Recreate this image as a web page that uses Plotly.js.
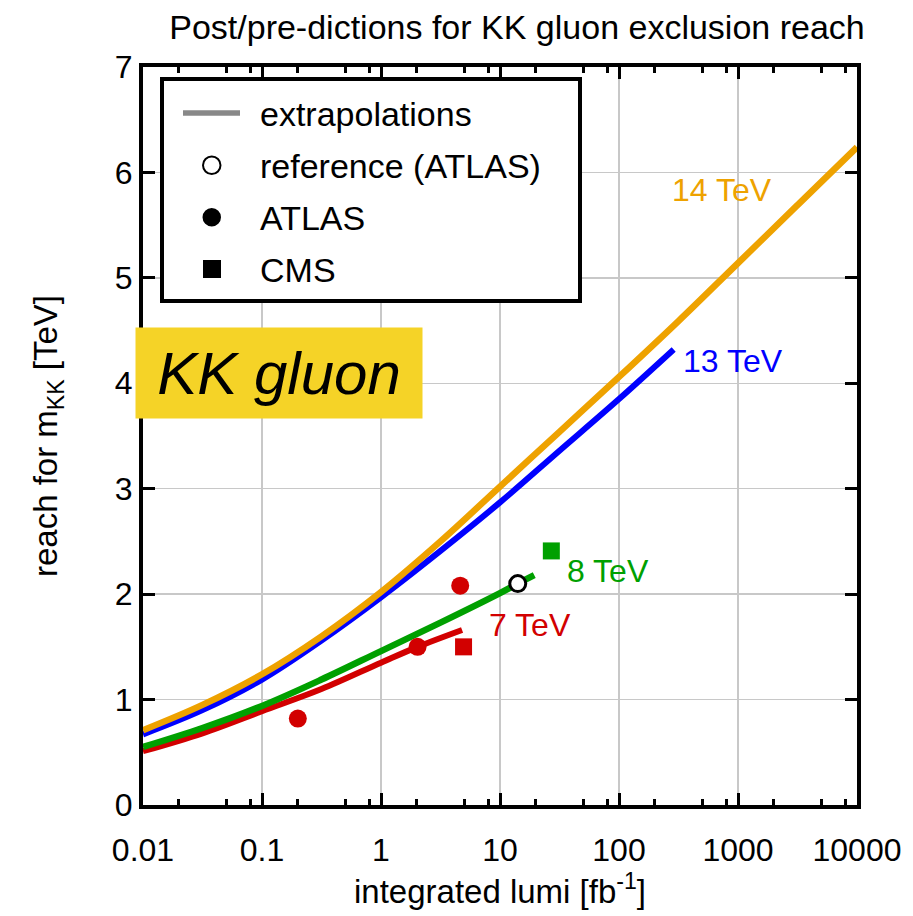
<!DOCTYPE html>
<html>
<head>
<meta charset="utf-8">
<script src="https://cdn.plot.ly/plotly-3.0.1.min.js"></script>
<style>
  html, body { margin: 0; padding: 0; background: #fff; }
  #chart { width: 913px; height: 916px; }
</style>
</head>
<body>
<div id="chart"></div>
<script>
// Extrapolated exclusion reach for the KK gluon mass vs. integrated luminosity [fb^-1]
const lumi7   = [0.01, 0.0316, 0.1, 0.316, 1, 2.03, 4.8];
const reach7  = [0.51, 0.68, 0.89, 1.10, 1.35, 1.50, 1.66];
const lumi8   = [0.01, 0.0316, 0.1, 0.316, 1, 3.16, 10, 14.1, 19.4];
const reach8  = [0.55, 0.73, 0.94, 1.19, 1.46, 1.73, 2.01, 2.10, 2.18];
const lumi13  = [0.01, 0.0316, 0.1, 0.316, 1, 3.16, 10, 31.6, 100, 288];
const reach13 = [0.67, 0.90, 1.19, 1.56, 1.97, 2.41, 2.87, 3.36, 3.85, 4.32];
const lumi14  = [0.01, 0.0316, 0.1, 0.316, 1, 3.16, 10, 31.6, 100, 316, 1000, 3162, 10000];
const reach14 = [0.71, 0.95, 1.24, 1.60, 2.02, 2.50, 3.02, 3.54, 4.06, 4.59, 5.14, 5.69, 6.24];

// Published limits
const atlasLumi  = [0.2, 2.03, 4.63];
const atlasReach = [0.82, 1.50, 2.08];
const cms7Lumi   = [4.94];
const cms7Reach  = [1.50];
const cms8Lumi   = [27.0];
const cms8Reach  = [2.41];
const refLumi    = [14.1];
const refReach   = [2.10];

// Series labels
const seriesNames = ['7 TeV', '8 TeV', '13 TeV', '14 TeV'];
const labelLumi   = [18, 81, 915, 738];
const labelReach  = [1.71, 2.22, 4.21, 5.83];

// Axis ticks
const xTickVals = [0.01, 0.1, 1, 10, 100, 1000, 10000];
const xTickText = ['0.01', '0.1', '1', '10', '100', '1000', '10000'];
const xMinorMult = [2, 5, 8];
const yTickVals = [0, 1, 2, 3, 4, 5, 6, 7];

// Legend entries
const legendText = ['extrapolations', 'reference (ATLAS)', 'ATLAS', 'CMS'];

const FONT = 'Liberation Sans, Arial, Helvetica, sans-serif';
const C7 = '#d20000', C8 = '#00a000', C13 = '#0000ff', C14 = '#eea200';
const colors = [C7, C8, C13, C14];

const xMinorVals = [];
xTickVals.slice(0, -1).forEach(d => xMinorMult.forEach(m => xMinorVals.push(d * m)));

function line(x, y, color, width) {
  return { x, y, type: 'scatter', mode: 'lines', showlegend: false, hoverinfo: 'skip',
           line: { color, width, shape: 'spline', smoothing: 1 } };
}
function pts(x, y, symbol, color, size, lineColor, lineWidth) {
  return { x, y, type: 'scatter', mode: 'markers', showlegend: false,
           marker: { symbol, color, size, line: { color: lineColor || color, width: lineWidth || 0 } } };
}

const data = [
  line(lumi7, reach7, C7, 6),
  line(lumi8, reach8, C8, 6.5),
  line(lumi13, reach13, C13, 6),
  line(lumi14, reach14, C14, 6.5),
  pts(atlasLumi, atlasReach, 'circle', C7, 18),
  pts(cms7Lumi, cms7Reach, 'square', C7, 17),
  pts(cms8Lumi, cms8Reach, 'square', C8, 17),
  pts(refLumi, refReach, 'circle', '#ffffff', 16, '#000000', 3)
];

// plot-area geometry helpers for the legend box (pixels -> paper)
const L = 143, R = 56, T = 67, B = 111, W = 913, H = 916;
const PW = W - L - R, PH = H - T - B;
const px = v => (v - L) / PW;
const py = v => (H - B - v) / PH;

const shapes = [
  { type: 'rect', xref: 'paper', yref: 'paper', x0: px(162), x1: px(580), y0: py(301), y1: py(79),
    fillcolor: '#ffffff', line: { color: '#000', width: 4 }, layer: 'above' },
  { type: 'line', xref: 'paper', yref: 'paper', x0: px(183), x1: px(240), y0: py(113), y1: py(113),
    line: { color: '#888888', width: 5.5 }, layer: 'above' },
  { type: 'circle', xref: 'paper', yref: 'paper', x0: px(203), x1: px(220.5), y0: py(174), y1: py(156.5),
    fillcolor: '#ffffff', line: { color: '#000', width: 2 }, layer: 'above' },
  { type: 'circle', xref: 'paper', yref: 'paper', x0: px(202.5), x1: px(221), y0: py(226.5), y1: py(208),
    fillcolor: '#000', line: { color: '#000', width: 0 }, layer: 'above' },
  { type: 'rect', xref: 'paper', yref: 'paper', x0: px(203), x1: px(221), y0: py(278), y1: py(260),
    fillcolor: '#000', line: { color: '#000', width: 0 }, layer: 'above' }
];

const legendY = [114, 166, 218, 270];
const annotations = legendText.map((t, i) => ({
  text: t, xref: 'paper', yref: 'paper', x: px(258), y: py(legendY[i]),
  xanchor: 'left', yanchor: 'middle', showarrow: false,
  font: { family: FONT, size: 34, color: '#000' }
}));

seriesNames.forEach((t, i) => annotations.push({
  text: t, xref: 'x', yref: 'y', x: Math.log10(labelLumi[i]), y: labelReach[i],
  xanchor: 'center', yanchor: 'middle', showarrow: false,
  font: { family: FONT, size: 32, color: colors[i] }
}));

annotations.push({
  text: '<i>KK gluon</i>', xref: 'paper', yref: 'paper', x: px(279), y: py(373),
  xanchor: 'center', yanchor: 'middle', showarrow: false,
  width: 286, height: 90, borderpad: 0, bgcolor: '#f5d327',
  font: { family: FONT, size: 60, color: '#000' }
});

const tickFont = { family: FONT, size: 32, color: '#000' };
const axisCommon = {
  ticks: 'inside', ticklen: 12, tickwidth: 3, tickcolor: '#000',
  showline: true, linewidth: 4, linecolor: '#000', mirror: 'allticks',
  showgrid: true, gridcolor: '#c8c8c8', gridwidth: 1.5, zeroline: false,
  tickfont: tickFont, fixedrange: true
};

const layout = {
  width: W, height: H,
  margin: { l: L, r: R, t: T, b: B, pad: 0 },
  paper_bgcolor: '#ffffff', plot_bgcolor: '#ffffff',
  showlegend: false,
  title: {
    text: 'Post/pre-dictions for KK gluon exclusion reach',
    font: { family: FONT, size: 34, color: '#000' },
    xref: 'paper', x: px(517), xanchor: 'center',
    yref: 'container', y: 1 - 27 / H, yanchor: 'middle'
  },
  xaxis: Object.assign({}, axisCommon, {
    type: 'log', range: [-2, 4],
    tickmode: 'array', tickvals: xTickVals, ticktext: xTickText,
    ticklabelstandoff: 14,
    minor: { tickmode: 'array', tickvals: xMinorVals, ticks: 'inside', ticklen: 6, tickwidth: 3,
             tickcolor: '#000', showgrid: false },
    title: { text: '\u2003integrated lumi [fb<sup>-1</sup>]', font: { family: FONT, size: 33, color: '#000' }, standoff: 6 }
  }),
  yaxis: Object.assign({}, axisCommon, {
    range: [0, 7], tickmode: 'array', tickvals: yTickVals,
    title: { text: 'reach for m<sub>KK</sub> [TeV]', font: { family: FONT, size: 33, color: '#000' }, standoff: 48 }
  }),
  shapes, annotations
};

Plotly.newPlot('chart', data, layout, { displayModeBar: false, staticPlot: true });
</script>
</body>
</html>
